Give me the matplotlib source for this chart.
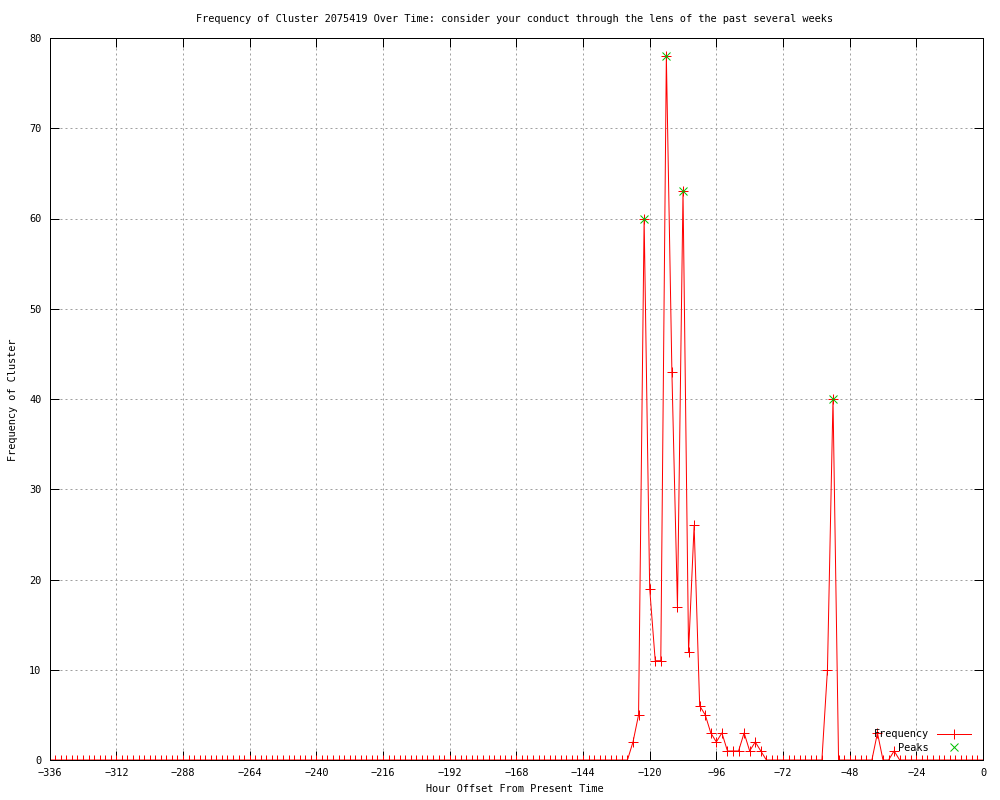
import matplotlib
matplotlib.use("Agg")
import matplotlib.pyplot as plt

hours = list(range(-336, 1, 2))
frequency = [
    0, 0, 0, 0, 0, 0, 0, 0, 0, 0, 0, 0, 0, 0, 0, 0, 0, 0, 0, 0,
    0, 0, 0, 0, 0, 0, 0, 0, 0, 0, 0, 0, 0, 0, 0, 0, 0, 0, 0, 0,
    0, 0, 0, 0, 0, 0, 0, 0, 0, 0, 0, 0, 0, 0, 0, 0, 0, 0, 0, 0,
    0, 0, 0, 0, 0, 0, 0, 0, 0, 0, 0, 0, 0, 0, 0, 0, 0, 0, 0, 0,
    0, 0, 0, 0, 0, 0, 0, 0, 0, 0, 0, 0, 0, 0, 0, 0, 0, 0, 0, 0,
    0, 0, 0, 0, 0,
    2, 5, 60, 19, 11, 11, 78, 43, 17, 63, 12, 26, 6, 5, 3, 2, 3, 1, 1, 1, 3, 1, 2, 1,
    0, 0, 0, 0, 0, 0, 0, 0, 0, 0, 0,
    10, 40,
    0, 0, 0, 0, 0, 0, 0,
    3, 0, 0, 1,
    0, 0, 0, 0, 0, 0, 0, 0, 0, 0, 0, 0, 0, 0, 0, 0,
]
peak_hours = [-122, -114, -108, -54]
peak_values = [60, 78, 63, 40]
xticks = list(range(-336, 1, 24))
yticks = list(range(0, 81, 10))

title = "Frequency of Cluster 2075419 Over Time: consider your conduct through the lens of the past several weeks"
xlabel = "Hour Offset From Present Time"
ylabel = "Frequency of Cluster"

plt.rcParams['font.family'] = ['DejaVu Sans Mono']
fs = 7.4
px = 0.72

fig = plt.figure(figsize=(10, 8), dpi=100)
ax = fig.add_axes([0.0497, 0.05, 0.9333, 0.9025])

ax.plot(hours, frequency, color='#ff0000', lw=px, marker='+', ms=7, mew=px,
        label='Frequency', zorder=3)
ax.plot(peak_hours, peak_values, color='#00c000', lw=0, marker='x', ms=6, mew=px,
        label='Peaks', zorder=4)

ax.set_xlim(-336, 0)
ax.set_ylim(0, 80)
ax.set_xticks(xticks)
ax.set_yticks(yticks)
ax.tick_params(direction='in', length=6.5, width=px, labelsize=fs, top=True, right=True,
               pad=6, colors='black')
ax.grid(True, color='#a0a0a0', lw=px, linestyle=(0, (2, 3)))
for s in ax.spines.values():
    s.set_linewidth(px)
    s.set_zorder(5)

fig.text(0.515, 0.976, title, ha='center', va='center', fontsize=fs)
fig.text(0.515, 0.008, xlabel, ha='center', va='bottom', fontsize=fs)
fig.text(0.013, 0.5, ylabel, ha='center', va='center', rotation=90, fontsize=fs)

leg = ax.legend(loc='lower right', bbox_to_anchor=(0.995, 0.0), markerfirst=False,
                frameon=False, fontsize=fs, handlelength=3.3, handletextpad=0.8,
                labelspacing=0.35, borderpad=0.2)
for t in leg.get_texts():
    t.set_ha('right')

fig.savefig('out.png', dpi=100)
